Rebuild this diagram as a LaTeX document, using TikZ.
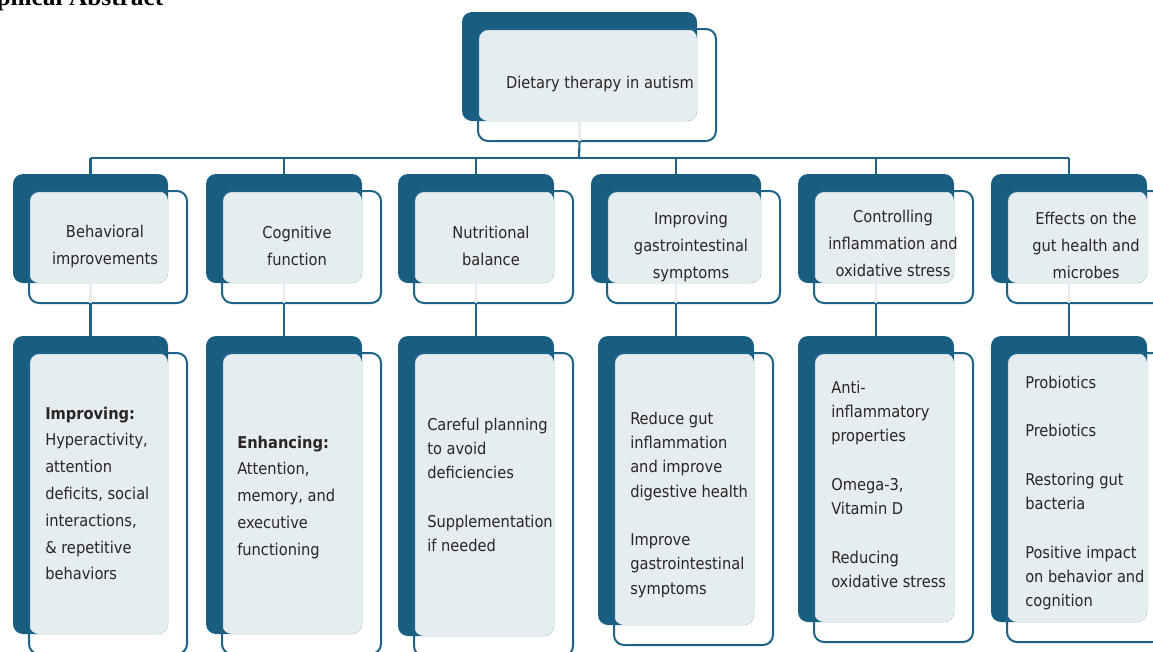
\documentclass[tikz,border=0pt]{standalone}
\usepackage{fontspec}
\setmainfont{DejaVu Sans Condensed}
\newfontfamily\titlefont{Liberation Serif}
\usetikzlibrary{fit}

\definecolor{cardblue}{HTML}{175E80}
\definecolor{cardline}{HTML}{1F6287}
\definecolor{cardlight}{HTML}{E6EDF1}
\definecolor{inktext}{HTML}{2A2526}

\tikzset{
  backcard/.style={fill=cardblue, rounded corners=7.5pt, inner sep=0pt},
  frontcard/.style={draw=cardline, line width=1.5pt, rounded corners=7.5pt, inner sep=0pt},
  lightcard/.style={fill=cardlight, rounded corners=7.5pt},
  link/.style={draw=cardline, line width=1.6pt},
  ghost/.style={draw=cardlight, line width=2pt, shorten >=1pt},
  head/.style={font=\fontsize{12.2}{20.25}\selectfont, text=inktext, align=center, inner sep=0pt},
  body/.style={font=\fontsize{12.2}{18.2}\selectfont, text=inktext, align=left, inner sep=0pt, anchor=north west},
  bodywide/.style={body, font=\fontsize{12.2}{20.1}\selectfont},
}

% back card at (x,y) with size w x h, front card shifted down right
\newcommand\card[5]{%
  \node[backcard, fit={(#2,#3) (#2+#4,#3+#5)}] (#1) {};
  \fill[lightcard] (#2+16,#3+17) rectangle (#2+#4,#3+#5);
  \node[frontcard, fit={(#2+16,#3+17) (#2+#4+19,#3+#5+20)}] (#1-f) {};
}

\begin{document}
\begin{tikzpicture}[x=0.75pt, y=-0.75pt]
  \useasboundingbox (0,0) rectangle (1153,651);

  \node[anchor=base east, font=\titlefont\bfseries\fontsize{19}{19}\selectfont] (title) at (168,5) {Graphical Abstract};

  % cards
  \card{top}{462}{12}{235}{109}
  \card{aim1}{13}{174}{155}{109}
  \card{aim2}{206}{174}{156}{109}
  \card{aim3}{398}{174}{156}{109}
  \card{aim4}{591}{174}{170}{109}
  \card{aim5}{798}{174}{156}{109}
  \card{aim6}{991}{174}{156}{109}
  \card{det1}{13}{336}{155}{298}
  \card{det2}{206}{336}{156}{298}
  \card{det3}{398}{336}{156}{300}
  \card{det4}{598}{336}{156}{289}
  \card{det5}{798}{336}{156}{286}
  \card{det6}{991}{336}{156}{286}

  % connectors
  \coordinate (bus) at (579,158);
  \draw[ghost] (top.south) -- (top.south |- top-f.south);
  \draw[link] (top.south |- top-f.south) -- (bus);
  \draw[link] (aim1.north |- bus) -- (aim6.north |- bus);
  \foreach \i in {1,...,6} {
    \draw[link] (aim\i.north |- bus) -- (aim\i.north);
    \draw[ghost] (aim\i.south) -- (aim\i.south |- aim\i-f.south);
    \draw[link] (aim\i.south |- aim\i-f.south) -- (det\i.north);
  }

  % texts
  \node[head, anchor=base] (toptxt) at (600,88) {Dietary therapy in autism};
  \node[head] (aimtxt1) at (105,247) {Behavioral\\improvements};
  \node[head] (aimtxt2) at (297,246) {Cognitive\\function};
  \node[head] (aimtxt3) at (491,246) {Nutritional\\balance};
  \node[head] (aimtxt4) at (691,247) {Improving\\gastrointestinal\\symptoms};
  \node[head] (aimtxt5) at (893,243) {Controlling\\inflammation and\\oxidative stress};
  \node[head] (aimtxt6) at (1086,245) {Effects on the\\gut health and\\microbes};

  \node[bodywide] (dettxt1) at (45,400) {\strut\textbf{Improving:}\\Hyperactivity,\\attention\\deficits, social\\interactions,\\\& repetitive\\behaviors};
  \node[bodywide] (dettxt2) at (237,429) {\strut\textbf{Enhancing:}\\Attention,\\memory, and\\executive\\functioning};
  \node[body] (dettxt3) at (427,413) {\strut Careful planning\\to avoid\\deficiencies\\[18.2pt]Supplementation\\if needed};
  \node[body] (dettxt4) at (630,407) {\strut Reduce gut\\inflammation\\and improve\\digestive health\\[18.2pt]Improve\\gastrointestinal\\symptoms};
  \node[body] (dettxt5) at (831,376) {\strut Anti-\\inflammatory\\properties\\[18.2pt]Omega-3,\\Vitamin D\\[18.2pt]Reducing\\oxidative stress};
  \node[body] (dettxt6) at (1025,371) {\strut Probiotics\\[18.2pt]Prebiotics\\[18.2pt]Restoring gut\\bacteria\\[18.2pt]Positive impact\\on behavior and\\cognition};
\end{tikzpicture}
\end{document}
